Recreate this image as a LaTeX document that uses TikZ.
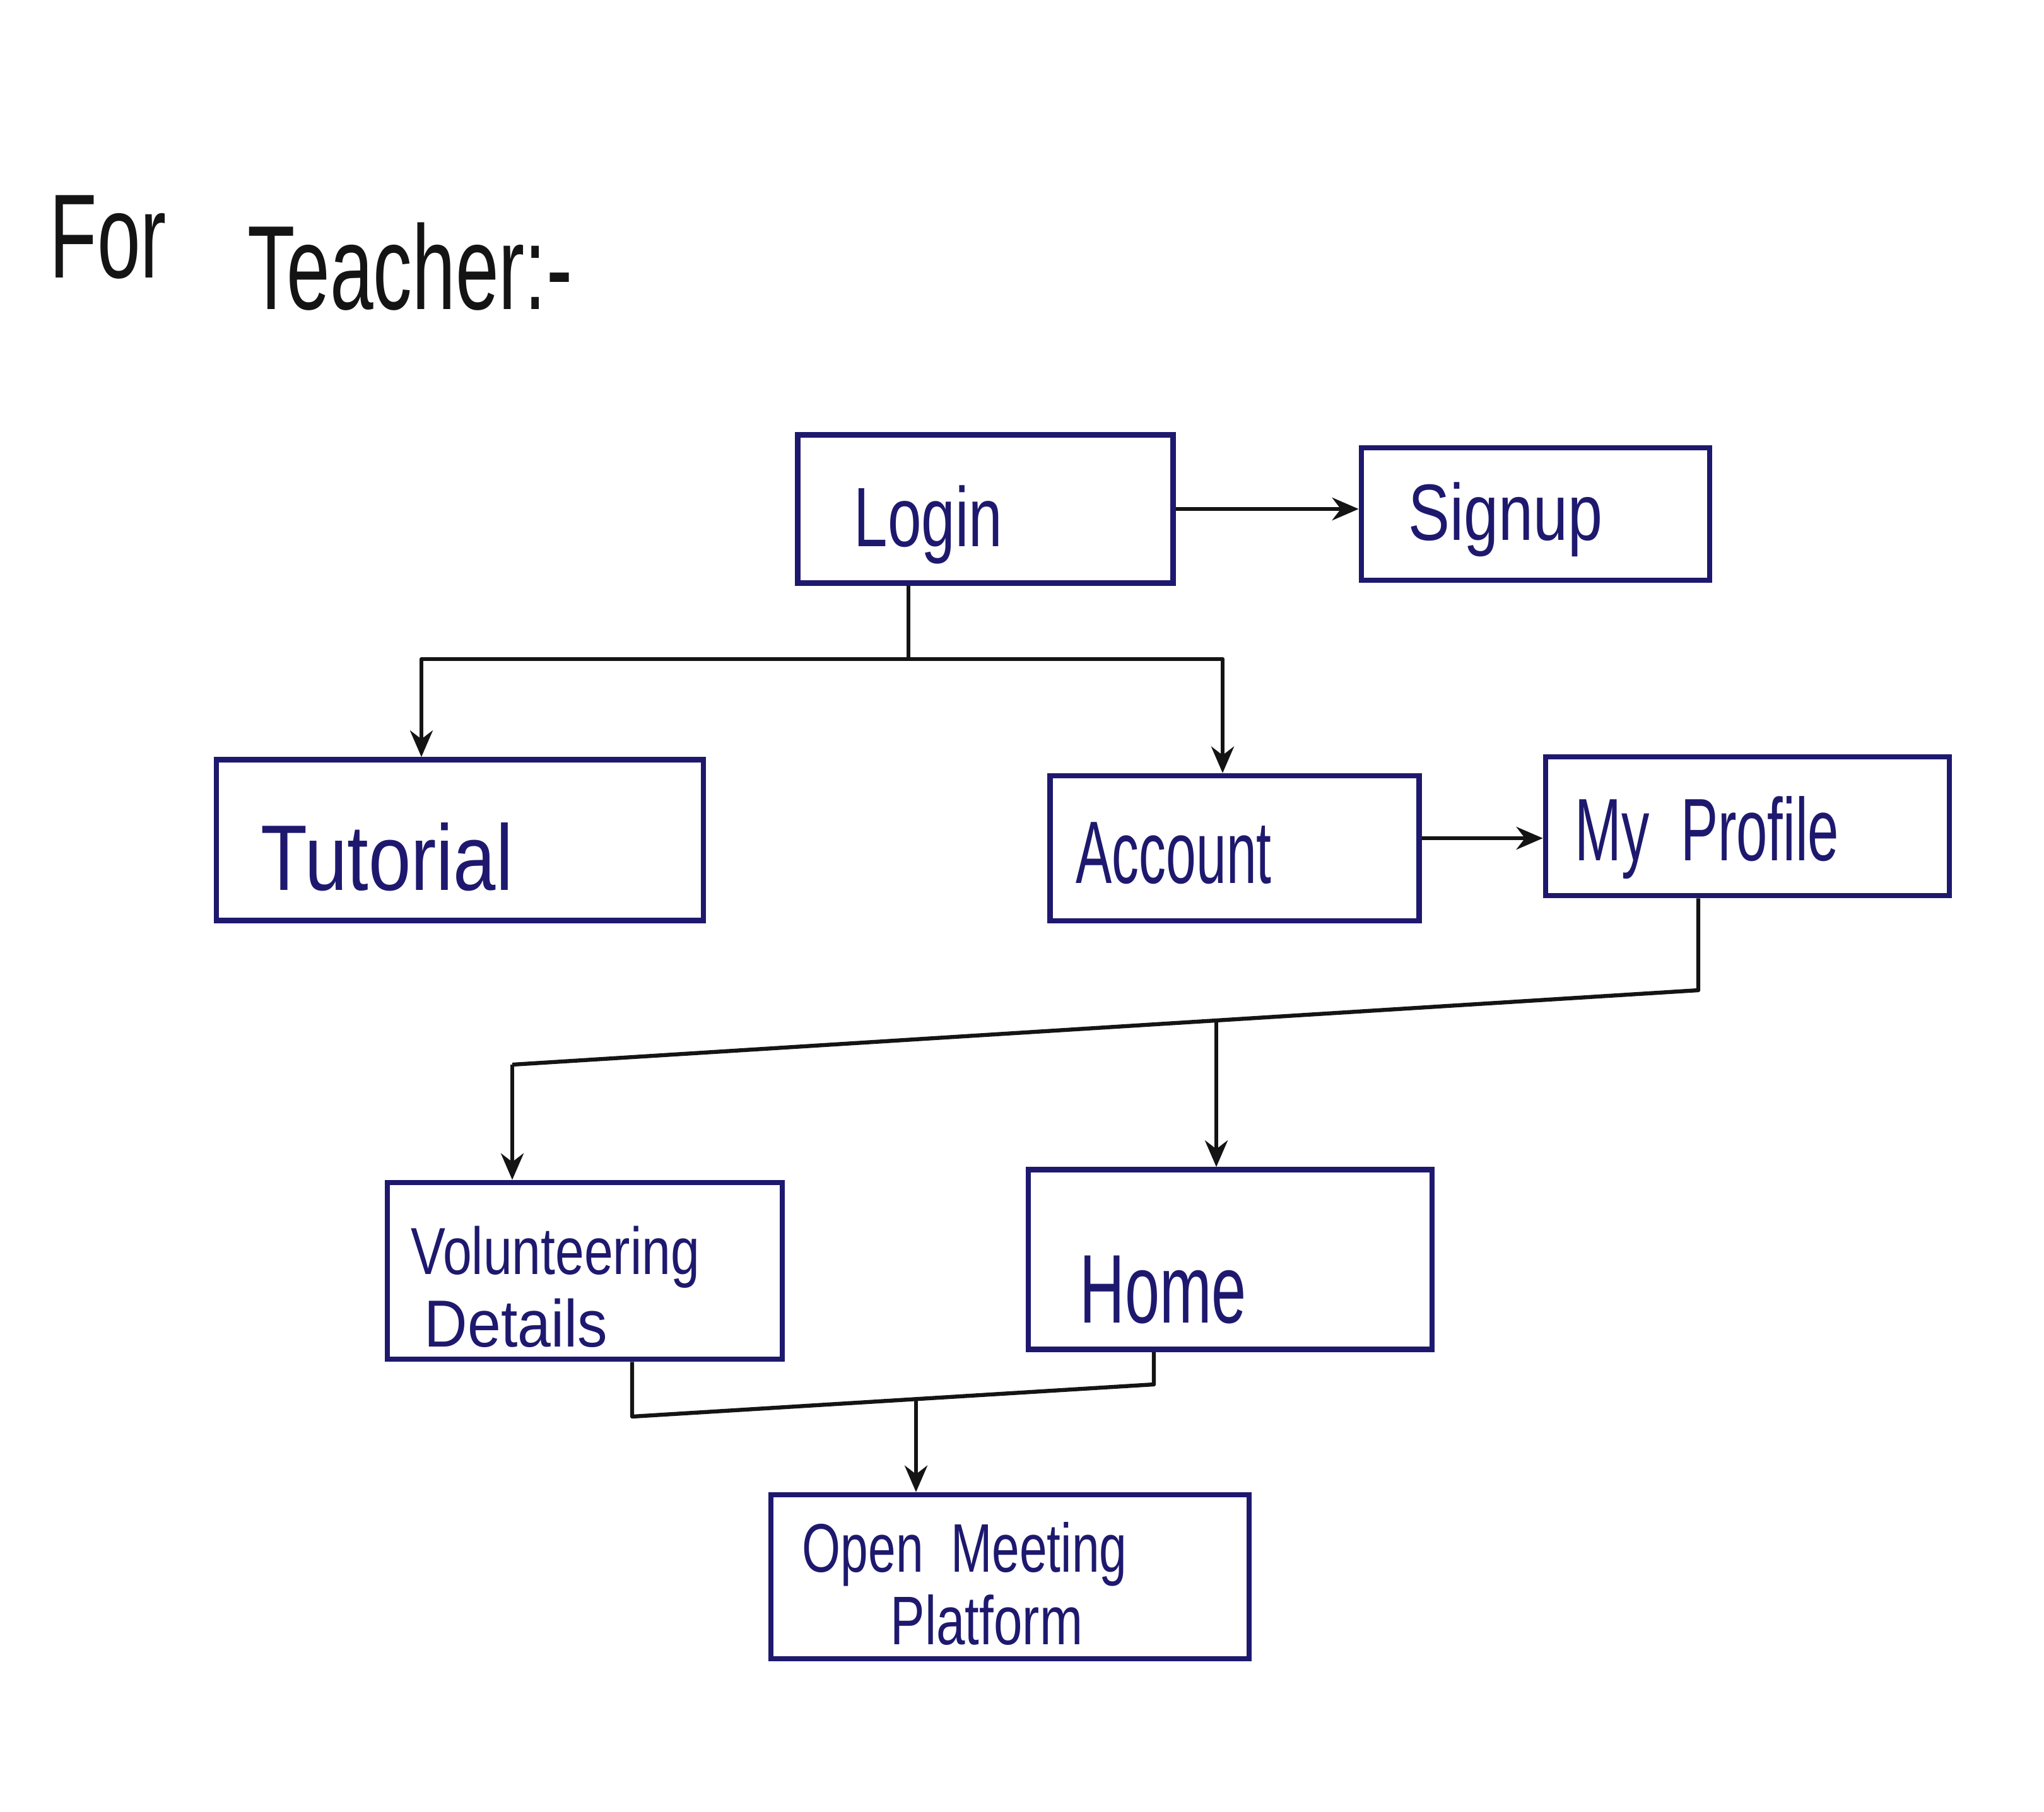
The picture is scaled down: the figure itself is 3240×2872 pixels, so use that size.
\documentclass[tikz,border=0pt]{standalone}
\usepackage{fontspec}
\setmainfont{Liberation Sans}
\usetikzlibrary{arrows.meta}
\definecolor{ink}{RGB}{30,25,110}
\definecolor{pen}{RGB}{20,20,20}
\newcommand{\hw}[2][0.78]{\scalebox{#1}[1]{#2}}
\begin{document}
\begin{tikzpicture}[x=0.01cm,y=-0.01cm,
  box/.style={draw=ink,line width=2.4pt,inner sep=0pt,fill=none},
  lbl/.style={anchor=base west,inner sep=0pt,text=ink,align=left},
  ttl/.style={anchor=base west,inner sep=0pt,text=pen},
  line/.style={draw=pen,line width=1.8pt,line join=round},
  conn/.style={line,-{Stealth[length=4.2mm,width=3.6mm]}}]
\useasboundingbox[fill=white] (0,0) rectangle (3240,2872);
% title
\node[ttl,font=\fontsize{54}{60}\selectfont] (tfor) at (78,440) {\hw[0.65]{For}};
\node[ttl,font=\fontsize{54}{60}\selectfont] (tteach) at (392,490) {\hw[0.65]{Teacher:-}};
% boxes
\node[box,minimum width=5.95cm,minimum height=2.35cm] (login) at (1562,807) {};
\node[box,minimum width=5.52cm,minimum height=2.10cm] (signup) at (2434,815) {};
\node[box,minimum width=7.72cm,minimum height=2.55cm] (tutorial) at (729,1332) {};
\node[box,minimum width=5.85cm,minimum height=2.30cm] (account) at (1957,1345) {};
\node[box,minimum width=6.40cm,minimum height=2.20cm] (profile) at (2770,1310) {};
\node[box,minimum width=6.26cm,minimum height=2.80cm] (vol) at (927,2015) {};
\node[box,minimum width=6.40cm,minimum height=2.85cm] (home) at (1950,1997) {};
\node[box,minimum width=7.58cm,minimum height=2.60cm] (open) at (1601,2500) {};
% labels
\node[lbl,font=\fontsize{38}{42}\selectfont] (llogin) at (1353,866) {\hw[0.72]{Login}};
\node[lbl,font=\fontsize{36}{40}\selectfont] (lsignup) at (2232,856) {\hw[0.78]{Signup}};
\node[lbl,font=\fontsize{42}{46}\selectfont] (ltut) at (413,1411) {\hw[0.82]{Tutorial}};
\node[lbl,font=\fontsize{40}{44}\selectfont] (lacc) at (1705,1400) {\hw[0.61]{Account}};
\node[lbl,font=\fontsize{40}{44}\selectfont] (lprof) at (2496,1364) {\hw[0.63]{My\ \ Profile}};
\node[lbl,font=\fontsize{30}{34}\selectfont] (lvol1) at (651,2020) {\hw[0.78]{Volunteering}};
\node[lbl,font=\fontsize{30}{34}\selectfont] (lvol2) at (672,2135) {\hw[0.9]{Details}};
\node[lbl,font=\fontsize{44}{48}\selectfont] (lhome) at (1711,2097) {\hw[0.64]{Home}};
\node[lbl,font=\fontsize{31}{35}\selectfont] (lopen1) at (1271,2492) {\hw[0.72]{Open\ \ Meeting}};
\node[lbl,font=\fontsize{31}{35}\selectfont] (lopen2) at (1411,2607) {\hw[0.75]{Platform}};
% connectors
\draw[conn] (login.east) -- (signup.west |- login.east);
\coordinate (j1) at (1440,1045);
\draw[line] (login.south -| j1) -- (j1);
\draw[conn] (j1) -| ([xshift=-0.61cm]tutorial.north);
\draw[conn] (j1) -| ([xshift=-0.19cm]account.north);
\draw[conn] (account.east |- 1329,1329) -- (profile.west |- 1329,1329);
\coordinate (pb) at ([xshift=-0.78cm]profile.south);
\coordinate (j2) at (2692,1570);
\coordinate (j2l) at (812,1688);
\coordinate (j2h) at (1928,1618);
\draw[line] (pb) -- (j2) -- (j2l);
\draw[conn] (j2l) -- (j2l |- vol.north);
\draw[conn] (j2h) -- (j2h |- home.north);
\coordinate (vb) at ([xshift=0.75cm]vol.south);
\coordinate (hb) at ([xshift=-1.21cm]home.south);
\coordinate (vbb) at (1002,2246);
\coordinate (hbb) at (1829,2195);
\coordinate (j3) at (1452,2218);
\draw[line] (vb) -- (vbb) -- (hbb) -- (hb);
\draw[conn] (j3) -- (j3 |- open.north);
\end{tikzpicture}
\end{document}
